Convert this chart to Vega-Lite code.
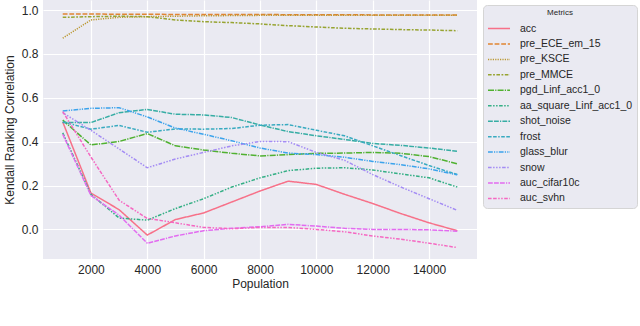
{
  "$schema": "https://vega.github.io/schema/vega-lite/v6.json",
  "width": 434,
  "height": 259,
  "autosize": {"type": "none"},
  "padding": {"left": 43, "top": 0, "right": 163, "bottom": 67},
  "background": "white",
  "config": {
    "view": {"fill": "#eaeaf2", "stroke": null},
    "font": "Liberation Sans",
    "axis": {
      "domain": false, "ticks": false, "gridColor": "white", "gridWidth": 1.2,
      "labelColor": "#262626", "titleColor": "#262626", "labelFontSize": 12, "titleFontSize": 12,
      "titleFontWeight": "normal", "labelFont": "Liberation Sans", "titleFont": "Liberation Sans"
    },
    "legend": {
      "orient": "none", "legendX": 440, "legendY": 5,
      "titleAnchor": "middle", "titleFontSize": 8, "titleFontWeight": "normal", "titleColor": "#262626", "titlePadding": 5,
      "labelFontSize": 10.5, "labelColor": "#262626", "labelOffset": 20,
      "symbolType": "M-1,0H3", "symbolSize": 121, "symbolStrokeWidth": 1.5,
      "fillColor": "#eaeaf2", "strokeColor": "#d5d5d5", "padding": 4, "cornerRadius": 4, "rowPadding": 3.45
    }
  },
  "datasets": {
    "d": [
      {"Population": 1000, "Metrics": "acc", "value": 0.49},
      {"Population": 2000, "Metrics": "acc", "value": 0.166},
      {"Population": 3000, "Metrics": "acc", "value": 0.09},
      {"Population": 4000, "Metrics": "acc", "value": -0.026},
      {"Population": 5000, "Metrics": "acc", "value": 0.045},
      {"Population": 6000, "Metrics": "acc", "value": 0.075},
      {"Population": 7000, "Metrics": "acc", "value": 0.125},
      {"Population": 8000, "Metrics": "acc", "value": 0.175},
      {"Population": 9000, "Metrics": "acc", "value": 0.22},
      {"Population": 10000, "Metrics": "acc", "value": 0.205},
      {"Population": 11000, "Metrics": "acc", "value": 0.16},
      {"Population": 12000, "Metrics": "acc", "value": 0.118},
      {"Population": 13000, "Metrics": "acc", "value": 0.072},
      {"Population": 14000, "Metrics": "acc", "value": 0.03},
      {"Population": 15000, "Metrics": "acc", "value": -0.006},

      {"Population": 1000, "Metrics": "pre_ECE_em_15", "value": 0.982},
      {"Population": 2000, "Metrics": "pre_ECE_em_15", "value": 0.982},
      {"Population": 3000, "Metrics": "pre_ECE_em_15", "value": 0.981},
      {"Population": 4000, "Metrics": "pre_ECE_em_15", "value": 0.981},
      {"Population": 5000, "Metrics": "pre_ECE_em_15", "value": 0.98},
      {"Population": 6000, "Metrics": "pre_ECE_em_15", "value": 0.98},
      {"Population": 7000, "Metrics": "pre_ECE_em_15", "value": 0.98},
      {"Population": 8000, "Metrics": "pre_ECE_em_15", "value": 0.98},
      {"Population": 9000, "Metrics": "pre_ECE_em_15", "value": 0.979},
      {"Population": 10000, "Metrics": "pre_ECE_em_15", "value": 0.979},
      {"Population": 11000, "Metrics": "pre_ECE_em_15", "value": 0.979},
      {"Population": 12000, "Metrics": "pre_ECE_em_15", "value": 0.978},
      {"Population": 13000, "Metrics": "pre_ECE_em_15", "value": 0.978},
      {"Population": 14000, "Metrics": "pre_ECE_em_15", "value": 0.978},
      {"Population": 15000, "Metrics": "pre_ECE_em_15", "value": 0.978},

      {"Population": 1000, "Metrics": "pre_KSCE", "value": 0.872},
      {"Population": 2000, "Metrics": "pre_KSCE", "value": 0.955},
      {"Population": 3000, "Metrics": "pre_KSCE", "value": 0.967},
      {"Population": 4000, "Metrics": "pre_KSCE", "value": 0.97},
      {"Population": 5000, "Metrics": "pre_KSCE", "value": 0.972},
      {"Population": 6000, "Metrics": "pre_KSCE", "value": 0.974},
      {"Population": 7000, "Metrics": "pre_KSCE", "value": 0.975},
      {"Population": 8000, "Metrics": "pre_KSCE", "value": 0.976},
      {"Population": 9000, "Metrics": "pre_KSCE", "value": 0.976},
      {"Population": 10000, "Metrics": "pre_KSCE", "value": 0.977},
      {"Population": 11000, "Metrics": "pre_KSCE", "value": 0.977},
      {"Population": 12000, "Metrics": "pre_KSCE", "value": 0.977},
      {"Population": 13000, "Metrics": "pre_KSCE", "value": 0.977},
      {"Population": 14000, "Metrics": "pre_KSCE", "value": 0.977},
      {"Population": 15000, "Metrics": "pre_KSCE", "value": 0.977},

      {"Population": 1000, "Metrics": "pre_MMCE", "value": 0.967},
      {"Population": 2000, "Metrics": "pre_MMCE", "value": 0.97},
      {"Population": 3000, "Metrics": "pre_MMCE", "value": 0.972},
      {"Population": 4000, "Metrics": "pre_MMCE", "value": 0.97},
      {"Population": 5000, "Metrics": "pre_MMCE", "value": 0.955},
      {"Population": 6000, "Metrics": "pre_MMCE", "value": 0.947},
      {"Population": 7000, "Metrics": "pre_MMCE", "value": 0.943},
      {"Population": 8000, "Metrics": "pre_MMCE", "value": 0.937},
      {"Population": 9000, "Metrics": "pre_MMCE", "value": 0.929},
      {"Population": 10000, "Metrics": "pre_MMCE", "value": 0.923},
      {"Population": 11000, "Metrics": "pre_MMCE", "value": 0.917},
      {"Population": 12000, "Metrics": "pre_MMCE", "value": 0.914},
      {"Population": 13000, "Metrics": "pre_MMCE", "value": 0.911},
      {"Population": 14000, "Metrics": "pre_MMCE", "value": 0.909},
      {"Population": 15000, "Metrics": "pre_MMCE", "value": 0.906},

      {"Population": 1000, "Metrics": "pgd_Linf_acc1_0", "value": 0.498},
      {"Population": 2000, "Metrics": "pgd_Linf_acc1_0", "value": 0.385},
      {"Population": 3000, "Metrics": "pgd_Linf_acc1_0", "value": 0.401},
      {"Population": 4000, "Metrics": "pgd_Linf_acc1_0", "value": 0.437},
      {"Population": 5000, "Metrics": "pgd_Linf_acc1_0", "value": 0.381},
      {"Population": 6000, "Metrics": "pgd_Linf_acc1_0", "value": 0.362},
      {"Population": 7000, "Metrics": "pgd_Linf_acc1_0", "value": 0.347},
      {"Population": 8000, "Metrics": "pgd_Linf_acc1_0", "value": 0.335},
      {"Population": 9000, "Metrics": "pgd_Linf_acc1_0", "value": 0.341},
      {"Population": 10000, "Metrics": "pgd_Linf_acc1_0", "value": 0.347},
      {"Population": 11000, "Metrics": "pgd_Linf_acc1_0", "value": 0.348},
      {"Population": 12000, "Metrics": "pgd_Linf_acc1_0", "value": 0.351},
      {"Population": 13000, "Metrics": "pgd_Linf_acc1_0", "value": 0.347},
      {"Population": 14000, "Metrics": "pgd_Linf_acc1_0", "value": 0.332},
      {"Population": 15000, "Metrics": "pgd_Linf_acc1_0", "value": 0.299},

      {"Population": 1000, "Metrics": "aa_square_Linf_acc1_0", "value": 0.44},
      {"Population": 2000, "Metrics": "aa_square_Linf_acc1_0", "value": 0.16},
      {"Population": 3000, "Metrics": "aa_square_Linf_acc1_0", "value": 0.052},
      {"Population": 4000, "Metrics": "aa_square_Linf_acc1_0", "value": 0.042},
      {"Population": 5000, "Metrics": "aa_square_Linf_acc1_0", "value": 0.095},
      {"Population": 6000, "Metrics": "aa_square_Linf_acc1_0", "value": 0.14},
      {"Population": 7000, "Metrics": "aa_square_Linf_acc1_0", "value": 0.193},
      {"Population": 8000, "Metrics": "aa_square_Linf_acc1_0", "value": 0.235},
      {"Population": 9000, "Metrics": "aa_square_Linf_acc1_0", "value": 0.268},
      {"Population": 10000, "Metrics": "aa_square_Linf_acc1_0", "value": 0.279},
      {"Population": 11000, "Metrics": "aa_square_Linf_acc1_0", "value": 0.281},
      {"Population": 12000, "Metrics": "aa_square_Linf_acc1_0", "value": 0.271},
      {"Population": 13000, "Metrics": "aa_square_Linf_acc1_0", "value": 0.253},
      {"Population": 14000, "Metrics": "aa_square_Linf_acc1_0", "value": 0.235},
      {"Population": 15000, "Metrics": "aa_square_Linf_acc1_0", "value": 0.193},

      {"Population": 1000, "Metrics": "shot_noise", "value": 0.487},
      {"Population": 2000, "Metrics": "shot_noise", "value": 0.487},
      {"Population": 3000, "Metrics": "shot_noise", "value": 0.532},
      {"Population": 4000, "Metrics": "shot_noise", "value": 0.547},
      {"Population": 5000, "Metrics": "shot_noise", "value": 0.525},
      {"Population": 6000, "Metrics": "shot_noise", "value": 0.522},
      {"Population": 7000, "Metrics": "shot_noise", "value": 0.51},
      {"Population": 8000, "Metrics": "shot_noise", "value": 0.476},
      {"Population": 9000, "Metrics": "shot_noise", "value": 0.446},
      {"Population": 10000, "Metrics": "shot_noise", "value": 0.427},
      {"Population": 11000, "Metrics": "shot_noise", "value": 0.41},
      {"Population": 12000, "Metrics": "shot_noise", "value": 0.392},
      {"Population": 13000, "Metrics": "shot_noise", "value": 0.383},
      {"Population": 14000, "Metrics": "shot_noise", "value": 0.371},
      {"Population": 15000, "Metrics": "shot_noise", "value": 0.356},

      {"Population": 1000, "Metrics": "frost", "value": 0.49},
      {"Population": 2000, "Metrics": "frost", "value": 0.457},
      {"Population": 3000, "Metrics": "frost", "value": 0.474},
      {"Population": 4000, "Metrics": "frost", "value": 0.443},
      {"Population": 5000, "Metrics": "frost", "value": 0.458},
      {"Population": 6000, "Metrics": "frost", "value": 0.457},
      {"Population": 7000, "Metrics": "frost", "value": 0.46},
      {"Population": 8000, "Metrics": "frost", "value": 0.475},
      {"Population": 9000, "Metrics": "frost", "value": 0.478},
      {"Population": 10000, "Metrics": "frost", "value": 0.452},
      {"Population": 11000, "Metrics": "frost", "value": 0.427},
      {"Population": 12000, "Metrics": "frost", "value": 0.381},
      {"Population": 13000, "Metrics": "frost", "value": 0.336},
      {"Population": 14000, "Metrics": "frost", "value": 0.291},
      {"Population": 15000, "Metrics": "frost", "value": 0.25},

      {"Population": 1000, "Metrics": "glass_blur", "value": 0.54},
      {"Population": 2000, "Metrics": "glass_blur", "value": 0.552},
      {"Population": 3000, "Metrics": "glass_blur", "value": 0.555},
      {"Population": 4000, "Metrics": "glass_blur", "value": 0.513},
      {"Population": 5000, "Metrics": "glass_blur", "value": 0.462},
      {"Population": 6000, "Metrics": "glass_blur", "value": 0.434},
      {"Population": 7000, "Metrics": "glass_blur", "value": 0.404},
      {"Population": 8000, "Metrics": "glass_blur", "value": 0.371},
      {"Population": 9000, "Metrics": "glass_blur", "value": 0.348},
      {"Population": 10000, "Metrics": "glass_blur", "value": 0.341},
      {"Population": 11000, "Metrics": "glass_blur", "value": 0.329},
      {"Population": 12000, "Metrics": "glass_blur", "value": 0.31},
      {"Population": 13000, "Metrics": "glass_blur", "value": 0.295},
      {"Population": 14000, "Metrics": "glass_blur", "value": 0.276},
      {"Population": 15000, "Metrics": "glass_blur", "value": 0.249},

      {"Population": 1000, "Metrics": "snow", "value": 0.532},
      {"Population": 2000, "Metrics": "snow", "value": 0.452},
      {"Population": 3000, "Metrics": "snow", "value": 0.367},
      {"Population": 4000, "Metrics": "snow", "value": 0.281},
      {"Population": 5000, "Metrics": "snow", "value": 0.321},
      {"Population": 6000, "Metrics": "snow", "value": 0.351},
      {"Population": 7000, "Metrics": "snow", "value": 0.381},
      {"Population": 8000, "Metrics": "snow", "value": 0.401},
      {"Population": 9000, "Metrics": "snow", "value": 0.4},
      {"Population": 10000, "Metrics": "snow", "value": 0.351},
      {"Population": 11000, "Metrics": "snow", "value": 0.315},
      {"Population": 12000, "Metrics": "snow", "value": 0.25},
      {"Population": 13000, "Metrics": "snow", "value": 0.193},
      {"Population": 14000, "Metrics": "snow", "value": 0.14},
      {"Population": 15000, "Metrics": "snow", "value": 0.087},

      {"Population": 1000, "Metrics": "auc_cifar10c", "value": 0.434},
      {"Population": 2000, "Metrics": "auc_cifar10c", "value": 0.155},
      {"Population": 3000, "Metrics": "auc_cifar10c", "value": 0.065},
      {"Population": 4000, "Metrics": "auc_cifar10c", "value": -0.063},
      {"Population": 5000, "Metrics": "auc_cifar10c", "value": -0.03},
      {"Population": 6000, "Metrics": "auc_cifar10c", "value": -0.006},
      {"Population": 7000, "Metrics": "auc_cifar10c", "value": 0.005},
      {"Population": 8000, "Metrics": "auc_cifar10c", "value": 0.012},
      {"Population": 9000, "Metrics": "auc_cifar10c", "value": 0.023},
      {"Population": 10000, "Metrics": "auc_cifar10c", "value": 0.015},
      {"Population": 11000, "Metrics": "auc_cifar10c", "value": 0.005},
      {"Population": 12000, "Metrics": "auc_cifar10c", "value": 0.0},
      {"Population": 13000, "Metrics": "auc_cifar10c", "value": 0.0},
      {"Population": 14000, "Metrics": "auc_cifar10c", "value": -0.002},
      {"Population": 15000, "Metrics": "auc_cifar10c", "value": -0.008},

      {"Population": 1000, "Metrics": "auc_svhn", "value": 0.537},
      {"Population": 2000, "Metrics": "auc_svhn", "value": 0.33},
      {"Population": 3000, "Metrics": "auc_svhn", "value": 0.133},
      {"Population": 4000, "Metrics": "auc_svhn", "value": 0.05},
      {"Population": 5000, "Metrics": "auc_svhn", "value": 0.03},
      {"Population": 6000, "Metrics": "auc_svhn", "value": 0.009},
      {"Population": 7000, "Metrics": "auc_svhn", "value": 0.003},
      {"Population": 8000, "Metrics": "auc_svhn", "value": 0.009},
      {"Population": 9000, "Metrics": "auc_svhn", "value": 0.009},
      {"Population": 10000, "Metrics": "auc_svhn", "value": 0.0},
      {"Population": 11000, "Metrics": "auc_svhn", "value": -0.011},
      {"Population": 12000, "Metrics": "auc_svhn", "value": -0.03},
      {"Population": 13000, "Metrics": "auc_svhn", "value": -0.045},
      {"Population": 14000, "Metrics": "auc_svhn", "value": -0.063},
      {"Population": 15000, "Metrics": "auc_svhn", "value": -0.083}
    ]
  },
  "data": {"name": "d"},
  "mark": {"type": "line", "strokeWidth": 1.5, "clip": true},
  "encoding": {
    "x": {
      "field": "Population", "type": "quantitative",
      "scale": {"domain": [300, 15700], "nice": false, "zero": false},
      "axis": {"values": [2000, 4000, 6000, 8000, 10000, 12000, 14000], "format": "d", "labelPadding": 5, "titlePadding": 3}
    },
    "y": {
      "field": "value", "type": "quantitative", "title": "Kendall Ranking Correlation",
      "scale": {"domain": [-0.135, 1.046], "nice": false, "zero": false},
      "axis": {"values": [0, 0.2, 0.4, 0.6, 0.8, 1.0], "format": ".1f", "labelPadding": 5, "titlePadding": 5}
    },
    "color": {
      "field": "Metrics", "type": "nominal",
      "scale": {
        "domain": ["acc", "pre_ECE_em_15", "pre_KSCE", "pre_MMCE", "pgd_Linf_acc1_0", "aa_square_Linf_acc1_0", "shot_noise", "frost", "glass_blur", "snow", "auc_cifar10c", "auc_svhn"],
        "range": ["#f77189", "#e18532", "#bb9832", "#97a431", "#50b131", "#34af85", "#36ada4", "#38aac0", "#3ba3ec", "#a48cf4", "#e26bf0", "#f568c2"]
      },
      "legend": {"title": "Metrics"}
    },
    "strokeDash": {
      "field": "Metrics", "type": "nominal",
      "scale": {
        "domain": ["acc", "pre_ECE_em_15", "pre_KSCE", "pre_MMCE", "pgd_Linf_acc1_0", "aa_square_Linf_acc1_0", "shot_noise", "frost", "glass_blur", "snow", "auc_cifar10c", "auc_svhn"],
        "range": [[1, 0], [4.8, 1.8], [1.2, 1.2], [3.6, 1.5, 1.8, 1.5], [6, 1.2, 1.2, 1.2], [3.6, 1.5, 1.5, 1.5, 1.5, 1.5], [4.8, 1.2, 4.8, 1.2, 1.2, 1.2], [3.6, 1.5, 3.6, 1.5, 1.5, 1.5], [4.8, 1.2, 1.2, 1.2, 1.2, 1.2], [3.6, 1.5, 1.5, 1.5, 1.5, 1.5, 1.5, 1.5], [4.8, 1.2, 4.8, 1.2, 4.8, 1.2, 1.2, 1.2], [3.6, 1.5, 3.6, 1.5, 1.5, 1.5, 1.5, 1.5]]
      },
      "legend": {"title": "Metrics"}
    }
  }
}
